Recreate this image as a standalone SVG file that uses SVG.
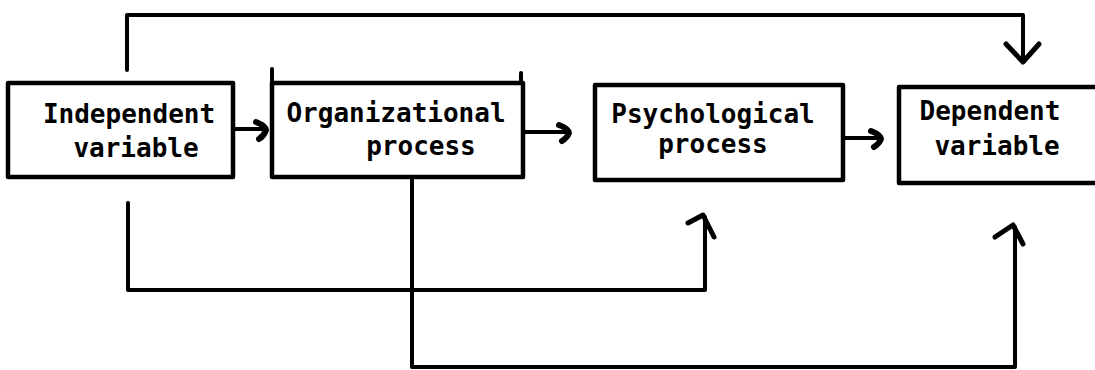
<svg xmlns="http://www.w3.org/2000/svg" width="1095" height="370" viewBox="0 0 1095 370">
<style>
.box{fill:none;stroke:#000;stroke-width:4.5;stroke-linejoin:round}
.ln{fill:none;stroke:#000;stroke-width:4;stroke-linecap:round;stroke-linejoin:round}
.hd{fill:none;stroke:#000;stroke-width:5;stroke-linecap:round;stroke-linejoin:round}
.hk{fill:none;stroke:#000;stroke-width:6;stroke-linecap:round;stroke-linejoin:round}
.t{font-family:"DejaVu Sans Mono",monospace;font-size:26px;font-weight:bold;fill:#000;text-anchor:middle}
</style>
<rect width="1095" height="370" fill="#fff"/>
<g id="node-independent">
<rect class="box" x="8" y="83" width="225" height="94"/>
<text class="t" x="129" y="123">Independent</text>
<text class="t" x="136" y="157">variable</text>
</g>
<g id="node-organizational">
<rect class="box" x="272" y="83" width="251" height="94"/>
<path class="ln" d="M272 83V69M521 83V73"/>
<text class="t" x="396" y="122">Organizational</text>
<text class="t" x="421" y="155">process</text>
</g>
<g id="node-psychological">
<rect class="box" x="595" y="85" width="248" height="95"/>
<text class="t" x="713" y="123">Psychological</text>
<text class="t" x="713" y="153">process</text>
</g>
<g id="node-dependent">
<rect class="box" x="899" y="87" width="210" height="96"/>
<text class="t" x="990" y="120">Dependent</text>
<text class="t" x="997" y="155">variable</text>
</g>
<g id="connectors">
<path class="ln" d="M233 129H264"/>
<path class="hk" d="M256 122Q266 126 266 130Q264 136 259 139"/>
<path class="ln" d="M523 132H567"/>
<path class="hk" d="M559 125Q569 129 569 133Q567 138 562 141"/>
<path class="ln" d="M843 138H879"/>
<path class="hk" d="M871 131Q881 135 881 139Q879 144 874 147"/>
<path class="ln" d="M127 70V15H1023V61"/>
<path class="hd" d="M1006 44L1023 62L1039 44"/>
<path class="ln" d="M128 203V290H705V217"/>
<path class="hd" d="M688 223L703 215L714 237"/>
<path class="ln" d="M412 177V367H1015V227"/>
<path class="hd" d="M995 237L1013 225L1023 244"/>
</g>
</svg>
